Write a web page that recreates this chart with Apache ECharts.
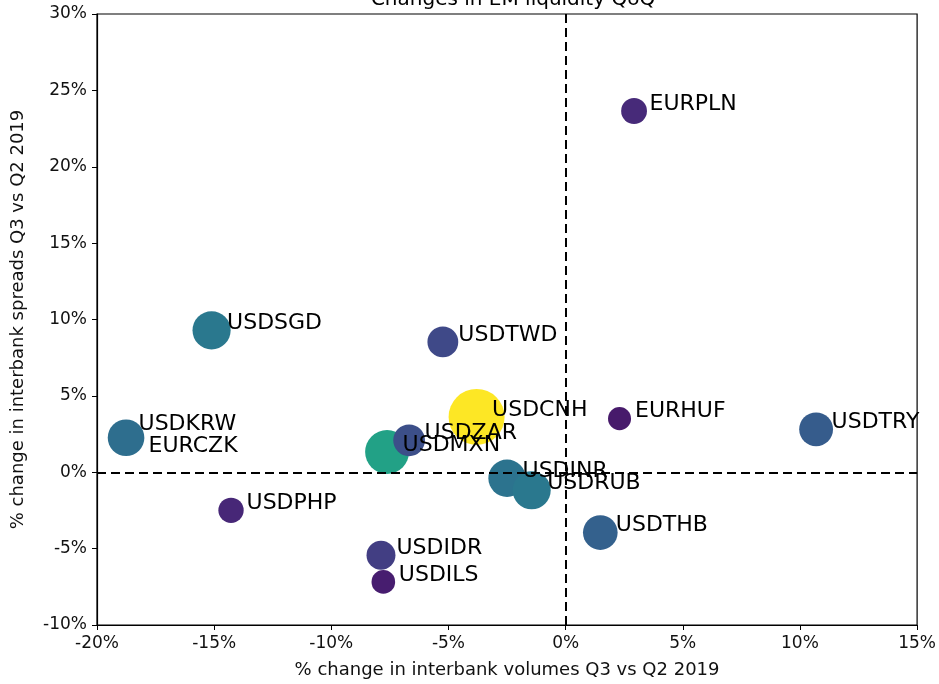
<!DOCTYPE html>
<html>
<head>
<meta charset="utf-8">
<script src="https://cdn.jsdelivr.net/npm/echarts@6/dist/echarts.min.js"></script>
<style>
html,body{margin:0;padding:0;background:#fff;}
#chart{width:939px;height:684px;}
</style>
</head>
<body>
<div id="chart"></div>
<script>
// Currency pairs (draw order)
var pairs = ['EURCZK','USDKRW','EURPLN','USDSGD','USDTWD','USDCNH','EURHUF','USDTRY','USDMXN','USDZAR','USDINR','USDRUB','USDPHP','USDTHB','USDIDR','USDILS'];
// % change in interbank volumes Q3 vs Q2 2019
var volumeChange = [-18.76, -18.76, 2.92, -15.11, -5.24, -3.80, 2.30, 10.69, -7.62, -6.68, -2.50, -1.45, -14.28, 1.48, -7.88, -7.78];
// % change in interbank spreads Q3 vs Q2 2019
var spreadChange = [2.26, 2.26, 23.65, 9.29, 8.53, 3.62, 3.51, 2.81, 1.33, 2.09, -0.39, -1.18, -2.49, -3.95, -5.43, -7.18];
// relative market volume (drives bubble size and colour)
var marketVolume = [14, 42.8, 21.3, 46.4, 30.3, 100, 16.9, 36.5, 61.5, 32.1, 44.6, 46.4, 20.4, 38.3, 26.7, 17.8];
// axis ticks
var xTicks = [-20, -15, -10, -5, 0, 5, 10, 15];
var yTicks = [-10, -5, 0, 5, 10, 15, 20, 25, 30];

var viridis = ['#440154','#482475','#414487','#355f8d','#2a788e','#21918c','#22a884','#44bf70','#7ad151','#bddf26','#fde725'];
var FONT = 'DejaVu Sans';

var bubbleData = pairs.map(function (p, i) {
  return { name: p, value: [volumeChange[i], spreadChange[i], marketVolume[i]] };
});
var labelOffsets = { USDKRW: [12, -13.5], EURCZK: [22, 8.5] };
var labelData = pairs.map(function (p, i) {
  var off = labelOffsets[p] || [15, -7];
  return { name: p, value: [volumeChange[i], spreadChange[i]], label: { offset: off } };
});

var chart = echarts.init(document.getElementById('chart'), null, { renderer: 'canvas' });
chart.setOption({
  animation: false,
  backgroundColor: '#ffffff',
  title: {
    text: 'Changes in EM liquidity QoQ',
    left: 508, textAlign: 'center', top: -15,
    textStyle: { fontFamily: FONT, fontSize: 20, fontWeight: 'normal', color: '#000' }
  },
  grid: { left: 97, right: 20, top: 14, bottom: 59, show: true, borderColor: '#000', borderWidth: 1.2, backgroundColor: 'transparent' },
  visualMap: {
    show: false, seriesIndex: 0, dimension: 2, min: 10.6, max: 100,
    inRange: { color: viridis }
  },
  xAxis: {
    type: 'value', min: xTicks[0], max: xTicks[xTicks.length - 1], interval: 5,
    name: '% change in interbank volumes Q3 vs Q2 2019', nameLocation: 'middle', nameGap: 36,
    nameTextStyle: { fontFamily: FONT, fontSize: 18, color: '#111' },
    axisLine: { onZero: false, lineStyle: { color: '#000', width: 1.2 } },
    axisTick: { show: true, inside: false, length: 5, lineStyle: { color: '#000' } },
    axisLabel: { formatter: '{value}%', fontFamily: FONT, fontSize: 17, color: '#111', margin: 10 },
    splitLine: { show: false }
  },
  yAxis: {
    type: 'value', min: yTicks[0], max: yTicks[yTicks.length - 1], interval: 5,
    name: '% change in interbank spreads Q3 vs Q2 2019', nameLocation: 'middle', nameGap: 70,
    nameTextStyle: { fontFamily: FONT, fontSize: 18, color: '#111' },
    axisLine: { onZero: false, lineStyle: { color: '#000', width: 1.2 } },
    axisTick: { show: true, inside: false, length: 5, lineStyle: { color: '#000' } },
    axisLabel: { formatter: '{value}%', fontFamily: FONT, fontSize: 17, color: '#111', margin: 10 },
    splitLine: { show: false }
  },
  series: [
    {
      type: 'scatter', z: 2,
      data: bubbleData,
      symbolSize: function (v) { return 5.6 * Math.sqrt(v[2]); },
      itemStyle: { opacity: 1 }
    },
    {
      type: 'line', z: 3, data: [], silent: true,
      markLine: {
        silent: true, symbol: 'none', animation: false,
        label: { show: false },
        lineStyle: { color: '#000', type: [9, 5], width: 2 },
        data: [{ xAxis: 0 }, { yAxis: 0 }]
      }
    },
    {
      type: 'scatter', z: 4, silent: true,
      data: labelData,
      symbolSize: 1,
      itemStyle: { color: 'rgba(0,0,0,0)' },
      label: {
        show: true, position: 'right', distance: 0,
        formatter: '{b}', fontFamily: FONT, fontSize: 22, color: '#000', opacity: 1
      }
    }
  ]
});
</script>
</body>
</html>
